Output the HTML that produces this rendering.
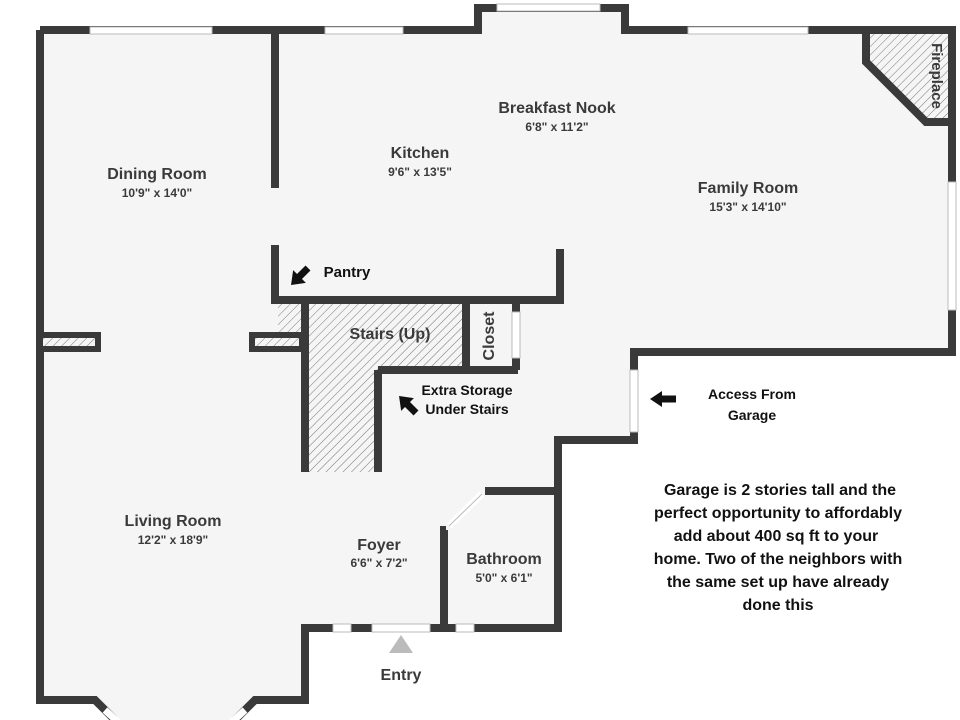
<!DOCTYPE html>
<html><head><meta charset="utf-8"><style>
html,body{margin:0;padding:0;background:#fff;}
svg{display:block;}
.t{font-family:"Liberation Sans",sans-serif;font-weight:bold;fill:#3a3a3a;text-anchor:middle;}
.b{font-family:"Liberation Sans",sans-serif;font-weight:bold;fill:#111;text-anchor:middle;}
</style></head><body>
<svg width="960" height="720" viewBox="0 0 960 720" xmlns="http://www.w3.org/2000/svg">
<defs>
<pattern id="h" width="6" height="6" patternUnits="userSpaceOnUse" patternTransform="rotate(45)">
<rect width="6" height="6" fill="#f5f5f5"/><line x1="0" y1="0" x2="0" y2="6" stroke="#777" stroke-width="1"/>
</pattern>
</defs>
<rect width="960" height="720" fill="#fff"/>
<polygon points="40,30 478,30 478,8 625,8 625,30 952,30 952,352 634,352 634,440 558,440 558,628 305,628 305,700 255,700 235,720 115,720 95,700 40,700" fill="#f5f5f5"/>
<polygon points="308,302 463,302 463,370 378,370 378,472 308,472" fill="url(#h)"/>
<rect x="278" y="302" width="27" height="30" fill="url(#h)"/>
<polygon points="866,33 950,33 950,122 926,122 866,62" fill="url(#h)"/>
<g fill="none" stroke="#3a3a3a" stroke-width="8" stroke-linejoin="miter">
<polyline points="40,30 478,30 478,8 625,8 625,30 952,30 952,352 634,352 634,440 558,440 558,628 305,628 305,700 255,700 235,720"/>
<polyline points="40,30 40,700 95,700 115,720"/>
<line x1="275" y1="30" x2="275" y2="188"/>
<polyline points="275,245 275,300 560,300 560,249"/>
<line x1="305" y1="300" x2="305" y2="472"/>
<line x1="378" y1="370" x2="378" y2="472"/>
<line x1="378" y1="370" x2="518" y2="370"/>
<line x1="466" y1="300" x2="466" y2="370"/>
<line x1="516" y1="300" x2="516" y2="370"/>
<polyline points="558,491 485,491"/>
<polyline points="446,530 444,530 444,628"/>
<polyline points="866,30 866,62 926,122 952,122"/>
</g>
<rect x="40" y="335" width="58" height="14" fill="url(#h)" stroke="#3a3a3a" stroke-width="6"/>
<rect x="252" y="335" width="50" height="14" fill="url(#h)" stroke="#3a3a3a" stroke-width="6"/>
<line x1="305" y1="300" x2="305" y2="352" stroke="#3a3a3a" stroke-width="8"/>
<g fill="#fff" stroke="#bbb" stroke-width="1">
<rect x="90" y="27" width="122" height="7"/>
<rect x="325" y="27" width="78" height="7"/>
<rect x="497" y="4" width="103" height="7"/>
<rect x="688" y="27" width="120" height="7"/>
<rect x="948" y="182" width="8" height="128"/>
<rect x="630" y="370" width="8" height="62"/>
<rect x="512" y="312" width="8" height="46"/>
<rect x="372" y="624" width="58" height="8"/>
<rect x="333" y="624" width="18" height="8"/>
<rect x="456" y="624" width="18" height="8"/>
</g>
<line x1="449" y1="526" x2="482" y2="494" stroke="#fff" stroke-width="7"/>
<line x1="449" y1="526" x2="482" y2="494" stroke="#bbb" stroke-width="1"/>
<line x1="105" y1="710" x2="118" y2="722" stroke="#fff" stroke-width="7"/>
<line x1="245" y1="710" x2="232" y2="722" stroke="#fff" stroke-width="7"/>
<polygon points="401,635 389,653 413,653" fill="#bbb"/>
<text class="t" x="157" y="179" font-size="16">Dining Room</text>
<text class="t" x="157" y="197" font-size="12">10'9" x 14'0"</text>
<text class="t" x="420" y="158" font-size="16">Kitchen</text>
<text class="t" x="420" y="176" font-size="12">9'6" x 13'5"</text>
<text class="t" x="557" y="113" font-size="16">Breakfast Nook</text>
<text class="t" x="557" y="131" font-size="12">6'8" x 11'2"</text>
<text class="t" x="748" y="193" font-size="16">Family Room</text>
<text class="t" x="748" y="211" font-size="12">15'3" x 14'10"</text>
<text class="t" x="173" y="526" font-size="16">Living Room</text>
<text class="t" x="173" y="544" font-size="12">12'2" x 18'9"</text>
<text class="t" x="379" y="550" font-size="16">Foyer</text>
<text class="t" x="379" y="567" font-size="12">6'6" x 7'2"</text>
<text class="t" x="504" y="564" font-size="16">Bathroom</text>
<text class="t" x="504" y="582" font-size="12">5'0" x 6'1"</text>
<text class="t" x="390" y="339" font-size="16">Stairs (Up)</text>
<text class="t" x="0" y="0" font-size="16" transform="translate(494,336) rotate(-90)">Closet</text>
<text class="t" x="0" y="0" font-size="15" transform="translate(932,76) rotate(90)">Fireplace</text>
<text class="t" x="401" y="680" font-size="16">Entry</text>
<text class="b" x="347" y="277" font-size="15">Pantry</text>
<text class="b" x="467" y="395" font-size="14">Extra Storage</text>
<text class="b" x="467" y="414" font-size="14">Under Stairs</text>
<text class="b" x="752" y="399" font-size="14">Access From</text>
<text class="b" x="752" y="420" font-size="14">Garage</text>
<text class="b" x="780" y="495" font-size="16">Garage is 2 stories tall and the</text>
<text class="b" x="778" y="518" font-size="16">perfect opportunity to affordably</text>
<text class="b" x="776" y="541" font-size="16">add about 400 sq ft to your</text>
<text class="b" x="778" y="564" font-size="16">home.  Two of the neighbors with</text>
<text class="b" x="778" y="587" font-size="16">the same set up  have already</text>
<text class="b" x="778" y="610" font-size="16">done this</text>
<g fill="#111">
<g transform="translate(308,268) rotate(135)"><rect x="0" y="-3.5" width="14" height="7"/><polygon points="12,-9 24,0 12,9"/></g>
<g transform="translate(416,413) rotate(-135)"><rect x="0" y="-3.5" width="14" height="7"/><polygon points="12,-9 24,0 12,9"/></g>
<g transform="translate(676,399) rotate(180)"><rect x="0" y="-3.5" width="16" height="7"/><polygon points="14,-8 26,0 14,8"/></g>
</g>
</svg>
</body></html>
